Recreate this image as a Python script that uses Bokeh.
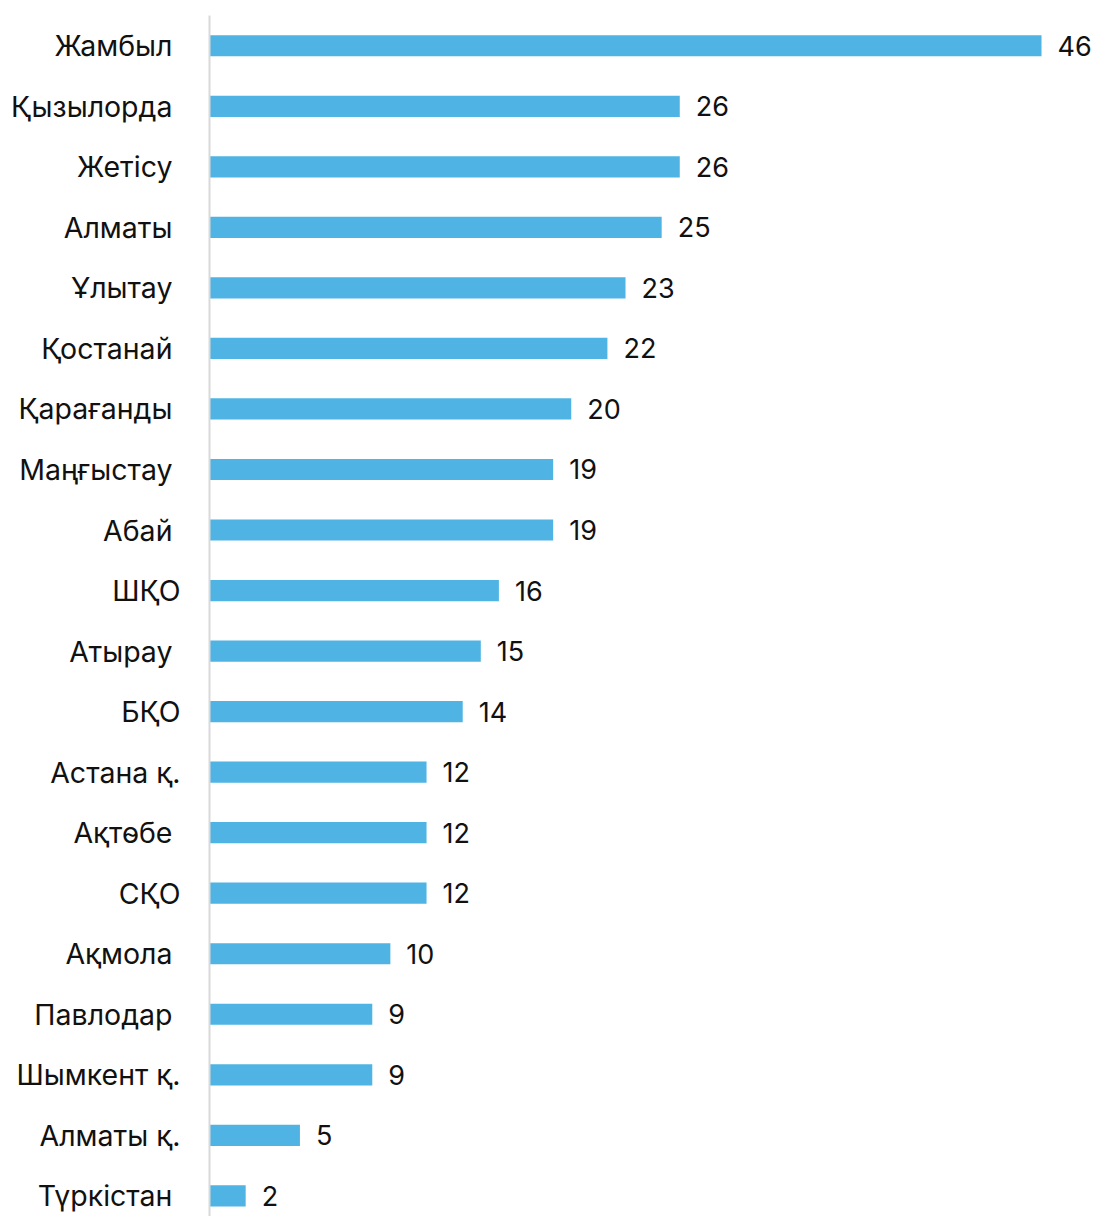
from bokeh.plotting import figure
from bokeh.models import Range1d, FixedTicker, ColumnDataSource
from bokeh.embed import file_html
from bokeh.resources import INLINE
from bokeh.core.properties import value

regions = ["Жамбыл", "Қызылорда", "Жетісу", "Алматы", "Ұлытау", "Қостанай",
           "Қарағанды", "Маңғыстау", "Абай", "ШҚО", "Атырау", "БҚО",
           "Астана қ.", "Ақтөбе", "СҚО", "Ақмола", "Павлодар", "Шымкент қ.",
           "Алматы қ.", "Түркістан"]
counts = [46, 26, 26, 25, 23, 22, 20, 19, 19, 16, 15, 14, 12, 12, 12, 10, 9, 9, 5, 2]

FONT = "Inter"
BAR = "#4FB4E3"

rows = list(range(len(regions)))
src = ColumnDataSource(dict(y=rows, v=counts, lab=[str(c) for c in counts]))

p = figure(frame_width=886, frame_height=1201,
           x_range=Range1d(0, 48.985), y_range=Range1d(19.341, -0.5),
           output_backend="svg", toolbar_location=None,
           min_border_left=209, min_border_right=0, min_border_top=15, min_border_bottom=0)

p.hbar(y="y", left=0, right="v", height=0.35, source=src, color=BAR, line_color=None)
p.text(x="v", y="y", text="lab", source=src, x_offset=16, text_baseline="middle",
       text_align="left", text_font=value(FONT), text_font_size="27px", text_color="#111111")

p.xaxis.visible = False
p.xgrid.visible = False
p.ygrid.visible = False
p.outline_line_color = None

def pad(name):
    return name if (name.endswith(".") or name.endswith("ҚО")) else name + "\u00a0"

ax = p.yaxis[0]
ax.ticker = FixedTicker(ticks=rows)
ax.major_label_overrides = {i: pad(n) for i, n in enumerate(regions)}
ax.major_label_text_font = FONT
ax.major_label_text_font_size = "28.5px"
ax.major_label_text_color = "#111111"
ax.major_label_standoff = 23
ax.major_tick_line_color = None
ax.minor_tick_line_color = None
ax.axis_line_color = "#d9d9d9"
ax.axis_line_width = 2

open("out.html", "w").write(file_html(p, INLINE))
